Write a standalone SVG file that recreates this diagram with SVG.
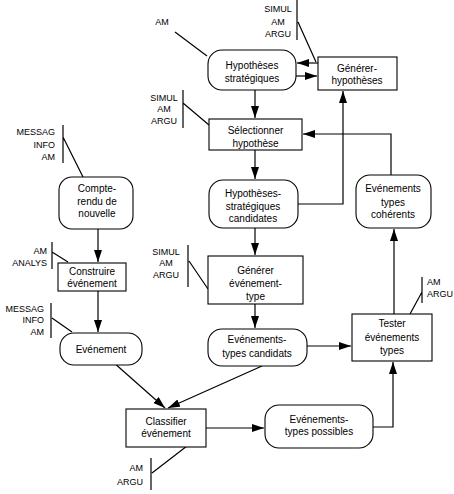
<svg xmlns="http://www.w3.org/2000/svg" width="454" height="494" viewBox="0 0 454 494">
<style>
.box{fill:#fff;stroke:#000;stroke-width:1.1}
.t{font-family:"Liberation Sans",Arial,sans-serif;font-size:10px;fill:#000;text-anchor:middle}
.l{font-family:"Liberation Sans",Arial,sans-serif;font-size:9px;fill:#000}
.c{fill:none;stroke:#000;stroke-width:1.2}
.tie{fill:none;stroke:#000;stroke-width:1.2}
</style>
<defs>
<marker id="ah" markerUnits="userSpaceOnUse" markerWidth="13" markerHeight="9" refX="12" refY="4" orient="auto">
<path d="M0,0 L12,4 L0,8 z" fill="#000"/>
</marker>
</defs>
<rect width="454" height="494" fill="#fff"/>

<g id="connectors">
<path class="c" d="M318,63 L297,63" marker-end="url(#ah)"/>
<path class="c" d="M296,76 L317,76" marker-end="url(#ah)"/>
<path class="c" d="M255,90 L255,118" marker-end="url(#ah)"/>
<path class="c" d="M255,150 L255,179" marker-end="url(#ah)"/>
<path class="c" d="M298,204 L343,204 L343,91" marker-end="url(#ah)"/>
<path class="c" d="M391,175 L391,134 L303,134" marker-end="url(#ah)"/>
<path class="c" d="M255,228 L255,255" marker-end="url(#ah)"/>
<path class="c" d="M255,304 L255,328" marker-end="url(#ah)"/>
<path class="c" d="M307,346 L351,346" marker-end="url(#ah)"/>
<path class="c" d="M394,314 L394,229" marker-end="url(#ah)"/>
<path class="c" d="M373,427 L393,427 L393,362" marker-end="url(#ah)"/>
<path class="c" d="M206,428 L264,428" marker-end="url(#ah)"/>
<path class="c" d="M113,362 L165,408" marker-end="url(#ah)"/>
<path class="c" d="M262,366 L168,408" marker-end="url(#ah)"/>
<path class="c" d="M98,229 L98,262" marker-end="url(#ah)"/>
<path class="c" d="M98,291 L98,332" marker-end="url(#ah)"/>
<path class="tie" d="M175,32 L207,56"/>
<path class="tie" d="M297,0 L297,40 M298,22 L316,62"/>
<path class="tie" d="M183,90 L183,128 M183,103 L209,125"/>
<path class="tie" d="M63,125 L63,163 M63,137 L83,177"/>
<path class="tie" d="M52,242 L52,269 M52,252 L68,262"/>
<path class="tie" d="M51,303 L51,338 M52,318 L72,332"/>
<path class="tie" d="M188,245 L188,287 M189,261 L208,289"/>
<path class="tie" d="M422,277 L422,303 M422,292 L410,314"/>
<path class="tie" d="M151,458 L151,490 M152,473 L187,446"/>
</g>

<g id="labels">
<text class="l" x="162" y="25" text-anchor="middle">AM</text>
<text class="l" x="278" y="12" text-anchor="middle">SIMUL</text>
<text class="l" x="278" y="25" text-anchor="middle">AM</text>
<text class="l" x="278" y="37" text-anchor="middle">ARGU</text>
<text class="l" x="164" y="101" text-anchor="middle">SIMUL</text>
<text class="l" x="164" y="112" text-anchor="middle">AM</text>
<text class="l" x="164" y="124" text-anchor="middle">ARGU</text>
<text class="l" x="55" y="135" text-anchor="end">MESSAG</text>
<text class="l" x="55" y="148" text-anchor="end">INFO</text>
<text class="l" x="55" y="160" text-anchor="end">AM</text>
<text class="l" x="47" y="254" text-anchor="end">AM</text>
<text class="l" x="47" y="266" text-anchor="end">ANALYS</text>
<text class="l" x="44" y="312" text-anchor="end">MESSAG</text>
<text class="l" x="44" y="323" text-anchor="end">INFO</text>
<text class="l" x="44" y="335" text-anchor="end">AM</text>
<text class="l" x="166" y="255" text-anchor="middle">SIMUL</text>
<text class="l" x="166" y="266" text-anchor="middle">AM</text>
<text class="l" x="166" y="278" text-anchor="middle">ARGU</text>
<text class="l" x="427" y="285">AM</text>
<text class="l" x="427" y="297">ARGU</text>
<text class="l" x="143" y="471" text-anchor="end">AM</text>
<text class="l" x="143" y="485" text-anchor="end">ARGU</text>
</g>

<g id="hyp-strat">
<rect class="box" x="208" y="50" width="88" height="40" rx="14"/>
<text class="t" x="252" y="68.5">Hypothèses</text>
<text class="t" x="252" y="81.5">stratégiques</text>
</g>
<g id="generer-hyp">
<rect class="box" x="318" y="57" width="79" height="33"/>
<text class="t" x="357" y="71.5">Générer-</text>
<text class="t" x="357" y="83.5">hypothèses</text>
</g>
<g id="selectionner">
<rect class="box" x="209" y="119" width="93" height="31"/>
<text class="t" x="255.5" y="133.5">Sélectionner</text>
<text class="t" x="255.5" y="146.5">hypothèse</text>
</g>
<g id="hyp-candidates">
<rect class="box" x="209" y="180" width="89" height="48" rx="14"/>
<text class="t" x="253" y="196.5">Hypothèses-</text>
<text class="t" x="253" y="209.5">stratégiques</text>
<text class="t" x="253" y="221.5">candidates</text>
</g>
<g id="coherents">
<rect class="box" x="356" y="175" width="75" height="53" rx="14"/>
<text class="t" x="393" y="191.5">Evénements</text>
<text class="t" x="393" y="205.5">types</text>
<text class="t" x="393" y="217.5">cohérents</text>
</g>
<g id="compte-rendu">
<rect class="box" x="59" y="177" width="74" height="52" rx="13"/>
<text class="t" x="97" y="192">Compte-</text>
<text class="t" x="97" y="204.5">rendu de</text>
<text class="t" x="97" y="217">nouvelle</text>
</g>
<g id="construire">
<rect class="box" x="58" y="263" width="68" height="28"/>
<text class="t" x="92" y="274.5">Construire</text>
<text class="t" x="92" y="286.5">événement</text>
</g>
<g id="evenement">
<rect class="box" x="60" y="333" width="82" height="32" rx="14"/>
<text class="t" x="101" y="352.5">Evénement</text>
</g>
<g id="generer-ev-type">
<rect class="box" x="208" y="256" width="95" height="48"/>
<text class="t" x="255.5" y="273.5">Générer</text>
<text class="t" x="255.5" y="286.5">événement-</text>
<text class="t" x="255.5" y="299.5">type</text>
</g>
<g id="candidats">
<rect class="box" x="208" y="329" width="99" height="37" rx="14"/>
<text class="t" x="257" y="343">Evénements-</text>
<text class="t" x="257" y="356.5">types candidats</text>
</g>
<g id="tester">
<rect class="box" x="352" y="314" width="80" height="47"/>
<text class="t" x="392" y="326.5">Tester</text>
<text class="t" x="392" y="340.5">événements</text>
<text class="t" x="392" y="353.5">types</text>
</g>
<g id="possibles">
<rect class="box" x="265" y="405" width="108" height="43" rx="14"/>
<text class="t" x="319" y="422.5">Evénements-</text>
<text class="t" x="319" y="434.5">types possibles</text>
</g>
<g id="classifier">
<rect class="box" x="126" y="409" width="80" height="38"/>
<text class="t" x="166" y="424.5">Classifier</text>
<text class="t" x="166" y="436.5">événement</text>
</g>
</svg>
